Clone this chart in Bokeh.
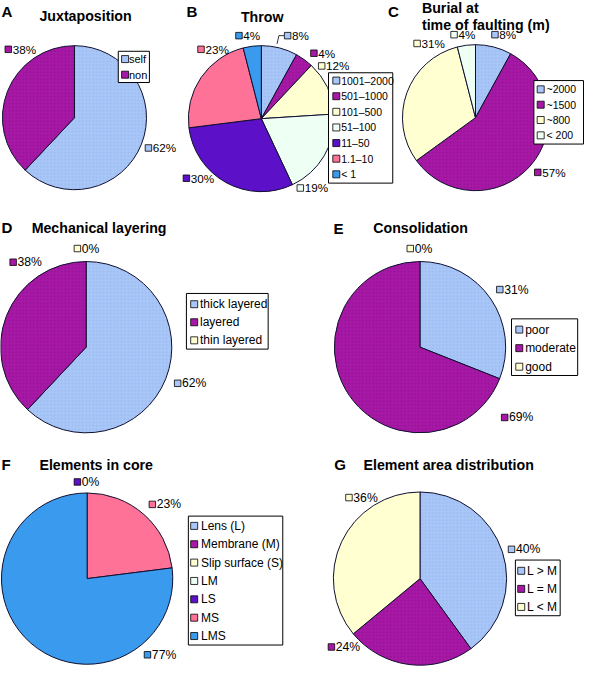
import numpy as np
from bokeh.plotting import figure
from bokeh.models import Range1d, ColumnDataSource
from bokeh.embed import file_html
from bokeh.resources import INLINE
from bokeh.core.properties import value

# ---------------- data ----------------
juxt_labels = ["self", "non"]
juxt_values = [62, 38]

throw_labels = ["1001\u20132000", "501\u20131000", "101\u2013500", "51\u2013100", "11\u201350", "1.1\u201310", "< 1"]
throw_values = [8, 4, 12, 19, 30, 23, 4]

burial_labels = ["~2000", "~1500", "~800", "< 200"]
burial_values = [8, 57, 31, 4]

layer_labels = ["thick layered", "layered", "thin layered"]
layer_values = [62, 38, 0]

consol_labels = ["poor", "moderate", "good"]
consol_values = [31, 69, 0]

core_labels = ["Lens (L)", "Membrane (M)", "Slip surface (S)", "LM", "LS", "MS", "LMS"]
core_values = [0, 0, 0, 0, 0, 23, 77]

area_labels = ["L > M", "L = M", "L < M"]
area_values = [40, 24, 36]

# ---------------- styles ----------------
LB = "#A8C6F7"
MAG = "#A818A6"
LY = "#FFFFD2"
LC = "#EEFFF4"
PUR = "#5C10C8"
PINK = "#FF7298"
BLUE = "#3A9BEE"
HATCH = {LB: ("dot", "#8EAEE6"), MAG: ("dot", "#7E0C80")}
FONT = "Liberation Sans"

W, H = 584, 666
RW, RH = 600, 682
K = W / RW


def Y(y):
    return RH - y


def fs(n):
    return f"{n * K:.1f}px"


p = figure(width=W, height=H, x_range=Range1d(0, RW), y_range=Range1d(0, RH),
           output_backend="svg", toolbar_location=None, min_border=0,
           x_axis_location=None, y_axis_location=None)
p.grid.visible = False
p.outline_line_color = None
p.background_fill_color = "white"


def txt(x, y, s, size, bold=False, align="left"):
    p.text(x=[x], y=[Y(y)], text=[s], text_font=value(FONT), text_font_size=fs(size),
           text_font_style="bold" if bold else "normal", text_baseline="middle",
           text_align=align, text_color="black")


def panel(letter, letter_xy, titles, labels, values, colors, center, r,
          label_pos, label_size, legend, leader=None):
    # letter + title
    txt(letter_xy[0], letter_xy[1], letter, 15.5, bold=True)
    for (tx, ty, t) in titles:
        txt(tx, ty, t, 14.6, bold=True)
    # wedges
    vals = np.array(values, dtype=float)
    frac = vals / vals.sum()
    cum = np.concatenate([[0.0], np.cumsum(frac)])
    start = np.pi / 2 - 2 * np.pi * cum[:-1]
    end = np.pi / 2 - 2 * np.pi * cum[1:]
    keep = vals > 0
    cols = list(np.array(colors)[keep])
    src = ColumnDataSource(dict(start=start[keep], end=end[keep], color=cols,
                                hp=[HATCH.get(c, ("blank", c))[0] for c in cols],
                                hc=[HATCH.get(c, ("blank", c))[1] for c in cols]))
    cx, cy = center
    p.wedge(x=cx, y=Y(cy), radius=r, start_angle="start", end_angle="end",
            direction="clock", fill_color="color", line_color="#101030",
            line_width=1, hatch_pattern="hp", hatch_color="hc", hatch_scale=3.5,
            hatch_alpha=0.55, source=src)
    # percent labels
    for i, pos in enumerate(label_pos):
        if pos is None:
            continue
        mx, my = pos
        if leader is not None and leader[0] == i:
            a = 2 * np.pi * (cum[i] + cum[i + 1]) / 2
            ex, ey = cx + r * np.sin(a), cy - r * np.cos(a)
            p.line(x=[ex - 2.5, leader[1][0], mx - 0.5], y=[Y(ey - 4), Y(leader[1][1]), Y(my)],
                   line_color="black", line_width=0.8)
        p.scatter(x=[mx + 3], y=[Y(my)], marker="square", size=6.5,
                  fill_color=colors[i], line_color="black", line_width=0.8)
        txt(mx + 7.5, my, f"{values[i]}%", label_size)
    # legend
    (l, t, rr, b), y0, dy, mx, tx, lfs = legend
    p.quad(left=[l], right=[rr], top=[Y(t)], bottom=[Y(b)], fill_color="white",
           line_color="black", line_width=1)
    for i, lab in enumerate(labels):
        yy = y0 + i * dy
        p.scatter(x=[mx], y=[Y(yy)], marker="square", size=7,
                  fill_color=colors[i], line_color="black", line_width=0.8)
        txt(tx, yy, lab, lfs)


panel("A", (1, 11), [(40, 16, "Juxtaposition")], juxt_labels, juxt_values,
      [LB, MAG], (76, 120), 74,
      [(149, 151), (5, 50)], 12,
      ((121, 52, 153, 84), 60, 16, 128, 132, 11.3))

panel("B", (191, 11), [(247, 17, "Throw")], throw_labels, throw_values,
      [LB, MAG, LY, LC, PUR, PINK, BLUE], (268, 121), 75,
      [(292, 36), (319, 54), (327, 67), (305, 192), (188, 182), (203, 50), (242, 36)], 12,
      ((337, 74, 403, 187), 82, 16, 345, 350, 10.8),
      leader=(0, (286, 36)))

panel("C", (398, 11), [(433, 8, "Burial at"), (433, 25, "time of faulting (m)")],
      burial_labels, burial_values,
      [LB, MAG, LY, LC], (488, 120), 75,
      [(505, 35), (549, 176), (425, 44), (463, 35)], 12,
      ((548, 82, 599, 147), 91, 15.7, 555, 561, 10.8))

panel("D", (1, 232), [(32, 233, "Mechanical layering")], layer_labels, layer_values,
      [LB, MAG, LY], (88, 355), 88,
      [(179, 392), (10, 268), (76, 254)], 12.5,
      ((191, 300, 275, 357), 311, 18.5, 199, 205, 12.3))

panel("E", (342, 233), [(383, 233, "Consolidation")], consol_labels, consol_values,
      [LB, MAG, LY], (431, 355), 88,
      [(510, 296), (515, 427), (418, 254)], 12.5,
      ((525, 326, 593, 384), 337, 19, 533, 539, 12.3))

panel("F", (1, 475), [(40, 476, "Elements in core")], core_labels, core_values,
      [LB, MAG, LY, LC, PUR, PINK, BLUE], (89, 592), 88,
      [None, None, None, None, (76, 493), (153, 516), (148, 670)], 12.5,
      ((193, 528, 290, 660), 538, 18.8, 199, 206, 12.3))

panel("G", (343, 475), [(373, 476, "Element area distribution")], area_labels, area_values,
      [LB, MAG, LY], (431, 592), 89,
      [(522, 562), (337, 662), (355, 509)], 12.5,
      ((529, 573, 575, 630), 584, 18.5, 535, 541, 12.3))

open("out.html", "w").write(file_html(p, INLINE))
